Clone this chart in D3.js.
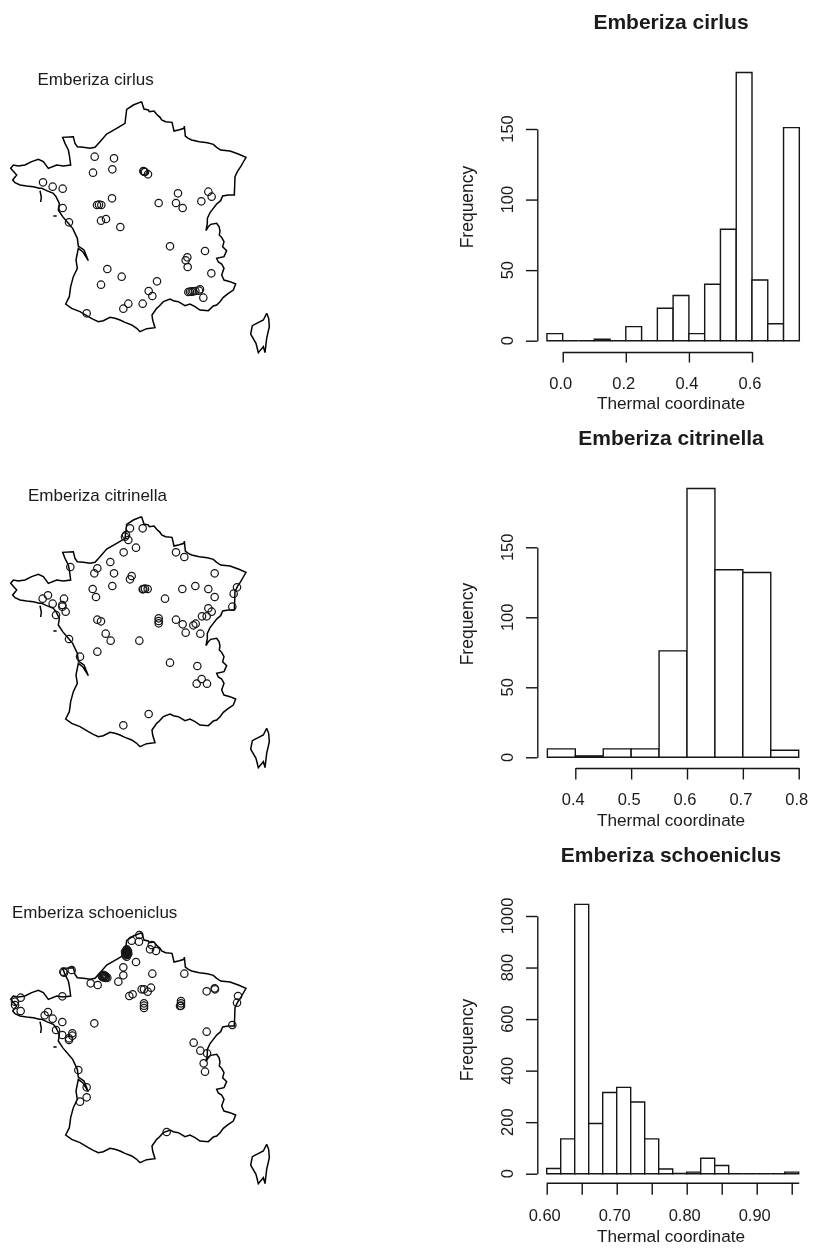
<!DOCTYPE html>
<html><head><meta charset="utf-8">
<script src="https://cdnjs.cloudflare.com/ajax/libs/d3/7.8.5/d3.min.js"></script>
<style>html,body{margin:0;padding:0;background:#fff}svg{display:block}text{font-family:"Liberation Sans",Arial,sans-serif;fill:#1a1a1a}</style>
</head><body><svg id="c" width="813" height="1249"></svg>
<script>
const species=["Emberiza cirlus","Emberiza citrinella","Emberiza schoeniclus"];
const mainland=[[425,125],[428,135],[432,147],[445,150],[448,155],[462,153],[470,163],[480,172],[485,180],[497,185],[516,187],[519,200],[522,213],[538,209],[552,205],[553,198],[556,228],[565,235],[575,240],[598,245],[622,248],[640,253],[650,262],[662,270],[690,273],[715,282],[738,292],[730,306],[722,320],[712,335],[705,350],[704,378],[703,405],[685,405],[668,408],[662,422],[650,432],[640,445],[630,458],[622,475],[622,490],[618,512],[625,500],[632,493],[650,490],[657,500],[660,512],[658,525],[665,532],[672,545],[668,560],[680,572],[672,590],[650,595],[655,606],[665,612],[672,625],[665,645],[672,660],[690,665],[707,672],[700,690],[685,700],[670,712],[660,725],[650,735],[640,738],[625,752],[600,750],[585,740],[570,732],[555,737],[535,725],[520,722],[510,717],[490,725],[478,738],[470,745],[456,765],[458,780],[465,803],[440,806],[420,815],[410,805],[395,795],[375,787],[360,780],[345,775],[330,772],[310,782],[295,785],[280,778],[265,770],[240,755],[215,745],[197,732],[208,710],[212,680],[220,650],[232,625],[228,600],[235,565],[248,575],[265,602],[252,570],[235,558],[232,535],[225,520],[218,505],[205,490],[188,470],[175,450],[178,430],[168,410],[160,400],[140,392],[125,385],[118,385],[100,380],[80,378],[60,375],[45,368],[38,360],[50,345],[32,325],[40,315],[55,318],[75,315],[95,305],[115,298],[130,305],[145,325],[170,315],[190,318],[212,315],[208,285],[205,270],[195,250],[188,232],[220,230],[225,250],[232,260],[250,262],[270,265],[285,262],[300,245],[320,222],[350,205],[375,190],[378,165],[380,148],[400,135],[425,125]];
const corsica=[[800,760],[806,775],[808,800],[800,835],[795,878],[790,860],[775,878],[768,850],[752,822],[757,797],[770,790],[790,780],[800,760]];
const isleBelle=[[120,392],[124,412],[122,426]];
const isleYeu=[[160,468],[170,468]];
const sitesCirlus=[[284,290],[342,295],[279,338],[337,328],[432,335],[435,336],[444,343],[430,333],[129,367],[158,380],[188,386],[188,444],[207,487],[336,415],[291,435],[297,434],[304,435],[476,429],[534,400],[528,429],[548,444],[604,424],[625,395],[635,410],[318,477],[303,482],[361,501],[510,559],[615,573],[562,592],[557,601],[563,621],[634,640],[322,627],[365,650],[303,674],[471,664],[446,693],[457,708],[385,731],[370,746],[428,731],[260,760],[565,696],[570,695],[575,695],[580,694],[586,693],[600,688],[610,713],[597,692]];
const sitesCitrinella=[[390,145],[428,145],[378,165],[375,170],[385,180],[408,203],[371,217],[528,217],[553,231],[331,246],[292,265],[283,280],[211,261],[342,280],[395,288],[390,298],[337,318],[278,327],[288,351],[430,327],[435,326],[443,327],[428,328],[547,327],[586,318],[625,327],[644,280],[644,351],[711,322],[701,341],[697,380],[495,356],[144,346],[128,356],[192,356],[158,371],[187,375],[187,380],[197,395],[168,405],[625,385],[635,395],[606,409],[620,409],[292,419],[303,424],[476,415],[476,423],[476,430],[528,419],[548,433],[587,431],[580,436],[557,458],[601,461],[317,461],[332,482],[418,482],[207,477],[292,515],[240,530],[510,548],[592,558],[605,597],[590,611],[621,611],[446,702],[370,736]];
const sitesSchoeniclus=[[418,105],[395,122],[417,125],[455,135],[450,148],[468,153],[380,148],[380,151],[380,155],[377,158],[383,158],[378,162],[382,165],[385,161],[375,155],[380,170],[376,166],[384,153],[408,186],[370,202],[457,221],[553,221],[370,226],[355,245],[190,215],[215,210],[192,218],[305,228],[309,225],[312,225],[315,228],[318,230],[322,233],[308,232],[312,231],[317,234],[272,250],[293,255],[453,263],[443,275],[425,268],[432,268],[398,283],[388,288],[432,310],[432,317],[432,324],[543,303],[543,310],[543,317],[540,318],[644,265],[620,274],[645,268],[714,288],[711,308],[187,289],[62,293],[45,305],[45,315],[62,333],[144,336],[134,346],[158,356],[187,366],[283,370],[168,390],[187,405],[217,400],[217,407],[207,415],[207,420],[697,375],[620,395],[581,428],[601,452],[621,460],[611,490],[615,515],[235,510],[260,562],[260,592],[240,605],[500,696]];
const breaks1=[-0.05,0,0.05,0.1,0.15,0.2,0.25,0.3,0.35,0.4,0.45,0.5,0.55,0.6,0.65,0.7,0.75];
const counts1=[5,0,0,1,0,10,0,23,32,5,40,79,190,43,12,151];
const xTicks1=[0,0.2,0.4,0.6];
const yTicks1=[0,50,100,150];
const breaks2=[0.35,0.4,0.45,0.5,0.55,0.6,0.65,0.7,0.75,0.8];
const counts2=[6,1,6,6,76,192,134,132,5];
const xTicks2=[0.4,0.5,0.6,0.7,0.8];
const yTicks2=[0,50,100,150];
const breaks3=[0.6,0.62,0.64,0.66,0.68,0.7,0.72,0.74,0.76,0.78,0.8,0.82,0.84,0.86,0.88,0.9,0.92,0.94,0.96];
const counts3=[20,135,1045,195,315,335,278,135,18,1,6,60,32,0,0,0,0,6];
const xTicks3=[0.6,0.65,0.7,0.75,0.8,0.85,0.9,0.95];
const xLabels3=[0.6,0.7,0.8,0.9];
const yTicks3=[0,200,400,600,800,1000];

const svg=d3.select("#c");
svg.append("defs").append("filter").attr("id","soft").attr("x","-5%").attr("y","-5%").attr("width","110%").attr("height","110%")
  .append("feGaussianBlur").attr("stdDeviation",0.35);
const root=svg.append("g").attr("filter","url(#soft)");
const ink="#141414";

const maps=[
 {name:species[0],sites:sitesCirlus,ptTop:60,lineTop:60,lx:37.5,ly:85},
 {name:species[1],sites:sitesCitrinella,ptTop:480,lineTop:475,lx:28,ly:501},
 {name:species[2],sites:sitesSchoeniclus,ptTop:900,lineTop:891,lx:12,ly:918}];
const mx=d3.scaleLinear().domain([0,870]).range([0,290]);
maps.forEach(m=>{
  const g=root.append("g");
  const ly=d3.scaleLinear().domain([0,900]).range([m.lineTop,m.lineTop+300]);
  const py=d3.scaleLinear().domain([0,900]).range([m.ptTop,m.ptTop+300]);
  const line=d3.line().x(d=>mx(d[0])).y(d=>ly(d[1]));
  [mainland,corsica,isleBelle,isleYeu].forEach(s=>g.append("path").attr("d",line(s)).attr("fill","none").attr("stroke","#000").attr("stroke-width",1.5));
  g.selectAll("circle").data(m.sites).join("circle").attr("cx",d=>mx(d[0])).attr("cy",d=>py(d[1])).attr("r",3.7)
    .attr("fill","none").attr("stroke",ink).attr("stroke-width",1.2);
  g.append("text").attr("x",m.lx).attr("y",m.ly).attr("font-size",17).text(m.name);
});

const hists=[
 {name:species[0],br:breaks1,ct:counts1,xt:xTicks1,xl:xTicks1,yt:yTicks1,fmt:d3.format(".1f"),
  xd:[0,0.6],xr:[562.7,752],yd:[0,150],yr:[340.7,129],axisY:352,tickY:362.5,labY:389,nameY:409,titleY:29,freqY:207},
 {name:species[1],br:breaks2,ct:counts2,xt:xTicks2,xl:xTicks2,yt:yTicks2,fmt:d3.format(".1f"),
  xd:[0.4,0.8],xr:[575.3,798.7],yd:[0,150],yr:[757.3,547.3],axisY:768,tickY:779.5,labY:805,nameY:826,titleY:445,freqY:624},
 {name:species[2],br:breaks3,ct:counts3,xt:xTicks3,xl:xLabels3,yt:yTicks3,fmt:d3.format(".2f"),
  xd:[0.6,0.96],xr:[546.7,798.7],yd:[0,1000],yr:[1173.7,916],axisY:1182.7,tickY:1194.7,labY:1221,nameY:1242,titleY:862,freqY:1040}];
hists.forEach(h=>{
  const g=root.append("g");
  const x=d3.scaleLinear().domain(h.xd).range(h.xr);
  const y=d3.scaleLinear().domain(h.yd).range(h.yr);
  const bars=h.ct.map((c,i)=>({c,a:h.br[i],b:h.br[i+1]}));
  const barLine=d3.line();
  g.selectAll("path.bar").data(bars).join("path").attr("class","bar")
    .attr("d",d=>barLine([[x(d.a),y(0)],[x(d.a),y(d.c)],[x(d.b),y(d.c)],[x(d.b),y(0)]])+"Z")
    .attr("fill","#fff").attr("stroke",ink).attr("stroke-width",1.4);
  const xAxis=g.append("g").attr("transform",`translate(0,${h.axisY})`)
    .call(d3.axisBottom(x).tickValues(h.xt).tickFormat("").tickSizeInner(h.tickY-h.axisY).tickSizeOuter(0));
  xAxis.selectAll("path,line").attr("stroke",ink).attr("stroke-width",1.4);
  g.selectAll(".xl").data(h.xl).join("text").attr("class","xl").attr("x",d=>x(d)-2).attr("y",h.labY)
    .attr("text-anchor","middle").attr("font-size",16.5).text(h.fmt);
  const yAxis=g.append("g").attr("transform","translate(537.3,0)")
    .call(d3.axisLeft(y).tickValues(h.yt).tickFormat("").tickSizeInner(11.3).tickSizeOuter(0));
  yAxis.selectAll("path,line").attr("stroke",ink).attr("stroke-width",1.4);
  g.selectAll(".yl").data(h.yt).join("text").attr("class","yl")
    .attr("transform",d=>`translate(513,${y(d)}) rotate(-90)`)
    .attr("text-anchor","middle").attr("font-size",16.5).text(d=>d);
  g.append("text").attr("transform",`translate(473,${h.freqY}) rotate(-90)`).attr("text-anchor","middle").attr("font-size",17.5).text("Frequency");
  g.append("text").attr("x",671).attr("y",h.nameY).attr("text-anchor","middle").attr("font-size",17.2).text("Thermal coordinate");
  g.append("text").attr("x",671).attr("y",h.titleY).attr("text-anchor","middle").attr("font-size",21).attr("font-weight","bold").text(h.name);
});
</script></body></html>
